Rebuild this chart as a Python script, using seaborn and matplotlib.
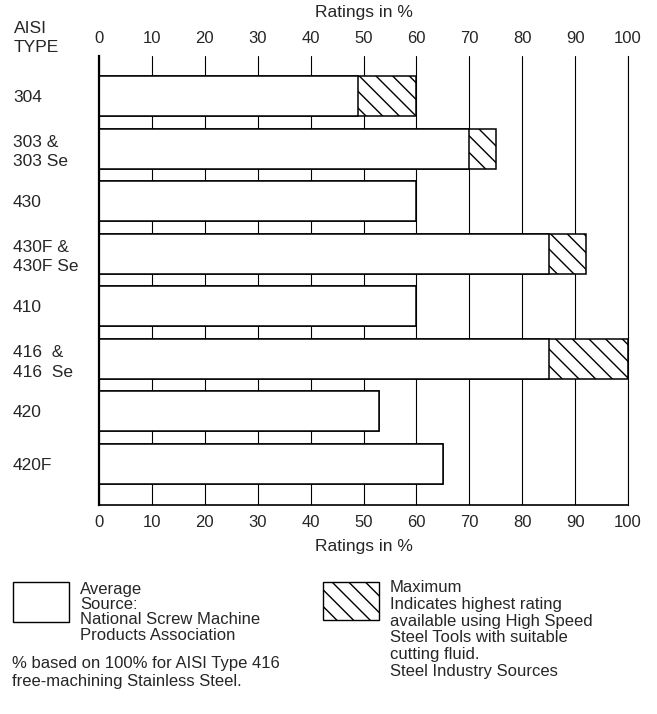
import matplotlib
matplotlib.use("Agg")
import matplotlib.pyplot as plt
from matplotlib.patches import Rectangle
import seaborn as sns
import pandas as pd

# machinability ratings (% of AISI 416)
aisi_types = ["304", "303 &\n303 Se", "430", "430F &\n430F Se", "410",
              "416  &\n416  Se", "420", "420F"]
average = [49, 70, 60, 85, 60, 85, 53, 65]
maximum = [60, 75, 60, 92, 60, 100, 53, 65]
x_ticks = [0, 10, 20, 30, 40, 50, 60, 70, 80, 90, 100]

W, H = 657, 714


def fx(px):
    return px / W


def fy(py):
    return 1 - py / H


sns.set_style("white")
plt.rcParams["font.family"] = ["Liberation Sans", "DejaVu Sans"]
plt.rcParams["hatch.linewidth"] = 1.0

df = pd.DataFrame({"type": aisi_types, "average": average, "maximum": maximum})

fig = plt.figure(figsize=(W / 100, H / 100), dpi=100)
ax = fig.add_axes([fx(99), fy(505), fx(628) - fx(99), fy(56) - fy(505)])

# hatched maximum bars first, white average bars on top
sns.barplot(data=df, x="maximum", y="type", orient="h", color="white",
            saturation=1, edgecolor="black", linewidth=1.1, hatch="\\\\",
            width=0.76, ax=ax)
sns.barplot(data=df, x="average", y="type", orient="h", color="white",
            saturation=1, edgecolor="black", linewidth=1.1,
            width=0.76, ax=ax)

ax.set_xlim(0, 100)
ax.set_ylim(7.78, -0.76)
ax.set_xticks(x_ticks)
ax.set_axisbelow(True)
ax.grid(axis="x", color="black", linewidth=0.8)
ax.grid(axis="y", visible=False)

ax.tick_params(axis="x", length=0, labelsize=12, top=True, labeltop=True, pad=7)
ax.tick_params(axis="y", length=0, labelsize=12.5, pad=62)
for lab in ax.get_yticklabels():
    lab.set_horizontalalignment("left")
    lab.set_linespacing(1.35)

ax.spines["top"].set_visible(False)
ax.spines["left"].set_linewidth(1.6)
ax.spines["bottom"].set_linewidth(1.2)
ax.spines["right"].set_linewidth(0.8)
for s in ax.spines.values():
    s.set_color("black")

ax.set_ylabel("")
ax.set_xlabel("Ratings in %", fontsize=12.5, labelpad=7)

fig.text(fx(364), fy(13), "Ratings in %", fontsize=12.5, ha="center", va="center")
fig.text(fx(14), fy(38), "AISI\nTYPE", fontsize=12.5, ha="left", va="center",
         linespacing=1.35)

# legend key boxes
fig.add_artist(Rectangle((fx(13), fy(622)), fx(56), 40 / H,
                         transform=fig.transFigure, facecolor="white",
                         edgecolor="black", linewidth=1.0))
fig.add_artist(Rectangle((fx(323), fy(620)), fx(56), 38 / H,
                         transform=fig.transFigure, facecolor="white",
                         edgecolor="black", linewidth=1.0, hatch="\\\\"))

fig.text(fx(80), fy(582), "Average\nSource:\nNational Screw Machine\nProducts Association",
         fontsize=12, ha="left", va="top", linespacing=1.02)
fig.text(fx(12), fy(656), "% based on 100% for AISI Type 416\nfree-machining Stainless Steel.",
         fontsize=12, ha="left", va="top", linespacing=1.28)
fig.text(fx(390), fy(580), "Maximum\nIndicates highest rating\navailable using High Speed\n"
         "Steel Tools with suitable\ncutting fluid.\nSteel Industry Sources",
         fontsize=12, ha="left", va="top", linespacing=1.15)

fig.savefig("out.png", dpi=100)
